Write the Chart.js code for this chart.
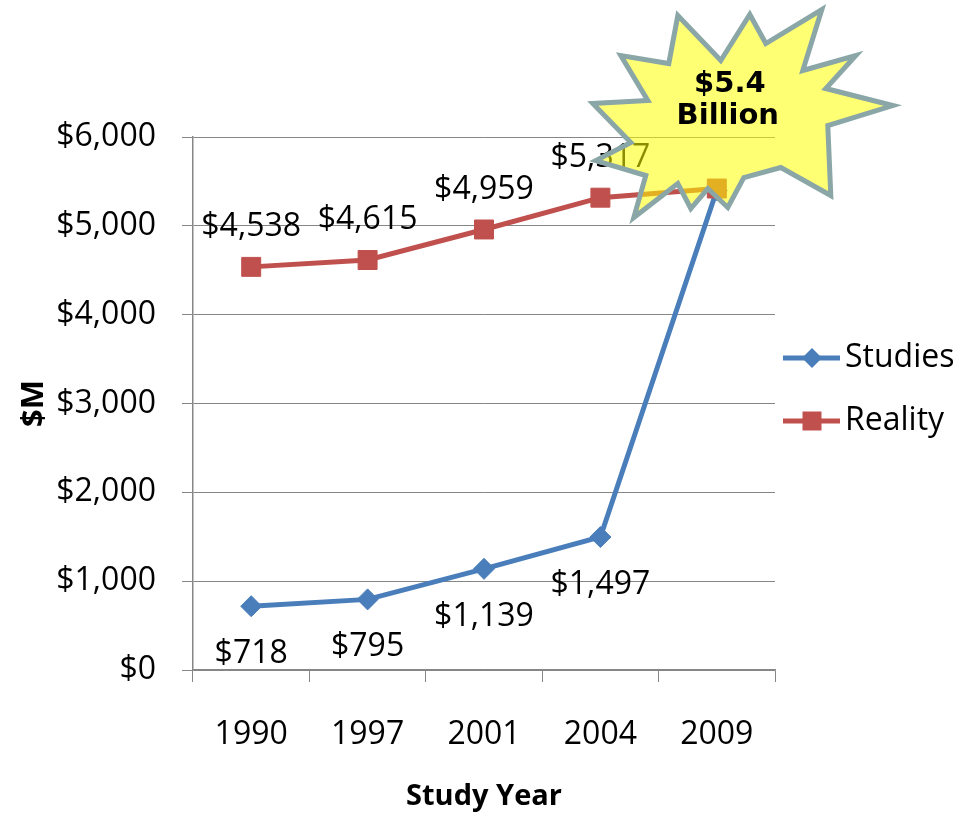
<!DOCTYPE html>
<html>
<head>
<meta charset="utf-8">
<script src="https://cdn.jsdelivr.net/npm/chart.js@4.4.1/dist/chart.umd.min.js"></script>
<style>
html, body { margin: 0; padding: 0; background: #fff; }
#wrap { width: 957px; height: 814px; position: relative; }
</style>
</head>
<body>
<div id="wrap"><canvas id="chart"></canvas></div>
<script>
// values
const years = ['1990', '1997', '2001', '2004', '2009'];
const studies = [718, 795, 1139, 1497, 5400];
const reality = [4538, 4615, 4959, 5317, 5420];
const studiesLabels = ['$718', '$795', '$1,139', '$1,497', null];
const realityLabels = ['$4,538', '$4,615', '$4,959', '$5,317', null];
const seriesNames = ['Studies', 'Reality'];
const calloutText = ['$5.4', 'Billion'];

const BLUE = '#4A7EBB';
const RED = '#C0504D';
const GRID = '#868686';
const FONT = "'Open Sans', sans-serif";

Chart.defaults.font.family = FONT;
Chart.defaults.color = '#000';

// data labels: reality above its points, studies below
const labelPlugin = {
  id: 'labels',
  afterDatasetsDraw(chart) {
    const ctx = chart.ctx;
    ctx.save();
    ctx.font = '32px ' + FONT;
    ctx.fillStyle = '#000';
    ctx.textAlign = 'center';
    ctx.textBaseline = 'middle';
    chart.data.datasets.forEach((ds, i) => {
      const meta = chart.getDatasetMeta(i);
      meta.data.forEach((pt, j) => {
        const txt = ds.valueLabels[j];
        if (!txt) return;
        const dy = ds.labelAbove ? -40 : 48;
        ctx.fillText(txt, pt.x, pt.y + dy);
      });
    });
    ctx.restore();
  }
};

// the yellow "$5.4 Billion" burst, pinned to the 2009 reality point
const burstPlugin = {
  id: 'burst',
  afterDatasetsDraw(chart) {
    const meta = chart.getDatasetMeta(1);
    const pt = meta.data[meta.data.length - 1];
    const cx = pt.x + 26, cy = pt.y - 76;
    const shape = [
      [-65, -97], [-22, -52], [7, -98], [23, -69], [79, -103], [60, -42],
      [113, -57], [83, -24], [150, -7], [85, 13], [88, 83], [38, 55],
      [1, 65], [-15, 95], [-35, 76], [-52, 96], [-65, 71], [-109, 105],
      [-97, 63], [-147, 48], [-112, 30], [-150, -9], [-95, -12], [-122, -57],
      [-74, -49]
    ];
    const ctx = chart.ctx;
    ctx.save();
    ctx.beginPath();
    shape.forEach(([dx, dy], k) => {
      if (k === 0) ctx.moveTo(cx + dx, cy + dy);
      else ctx.lineTo(cx + dx, cy + dy);
    });
    ctx.closePath();
    ctx.fillStyle = 'rgba(255,255,0,0.55)';
    ctx.fill();
    ctx.lineWidth = 5;
    ctx.lineJoin = 'miter';
    ctx.strokeStyle = '#8AA6A6';
    ctx.stroke();
    ctx.fillStyle = '#000';
    ctx.font = "bold 29px 'DejaVu Sans', sans-serif";
    ctx.textAlign = 'center';
    ctx.textBaseline = 'middle';
    ctx.fillText(calloutText[0], cx - 13, cy - 28);
    ctx.fillText(calloutText[1], cx - 15, cy + 4);
    ctx.restore();
  }
};

// legend on the right: line with marker, then name
const legendPlugin = {
  id: 'sideLegend',
  afterDraw(chart) {
    const ctx = chart.ctx;
    const x0 = chart.chartArea.right + 8;
    const rows = [
      { y: 358, color: BLUE, marker: 'diamond' },
      { y: 421, color: RED, marker: 'square' }
    ];
    ctx.save();
    rows.forEach((r, i) => {
      ctx.strokeStyle = r.color;
      ctx.fillStyle = r.color;
      ctx.lineWidth = 5;
      ctx.beginPath();
      ctx.moveTo(x0, r.y);
      ctx.lineTo(x0 + 57, r.y);
      ctx.stroke();
      const mx = x0 + 29;
      ctx.beginPath();
      if (r.marker === 'diamond') {
        ctx.moveTo(mx, r.y - 10);
        ctx.lineTo(mx + 10, r.y);
        ctx.lineTo(mx, r.y + 10);
        ctx.lineTo(mx - 10, r.y);
        ctx.closePath();
      } else {
        ctx.rect(mx - 9.5, r.y - 9.5, 19, 19);
      }
      ctx.fill();
      ctx.fillStyle = '#000';
      ctx.font = '32px ' + FONT;
      ctx.textAlign = 'left';
      ctx.textBaseline = 'middle';
      ctx.fillText(seriesNames[i], x0 + 62, r.y);
    });
    ctx.restore();
  }
};

const chart = new Chart(document.getElementById('chart'), {
  type: 'line',
  data: {
    labels: years,
    datasets: [
      {
        label: seriesNames[0],
        data: studies,
        valueLabels: studiesLabels,
        labelAbove: false,
        borderColor: BLUE,
        backgroundColor: BLUE,
        borderWidth: 5,
        pointStyle: 'rectRot',
        pointRadius: 10.5,
        pointBorderWidth: 1,
        tension: 0,
        order: 1
      },
      {
        label: seriesNames[1],
        data: reality,
        valueLabels: realityLabels,
        labelAbove: true,
        borderColor: RED,
        backgroundColor: RED,
        borderWidth: 5,
        pointStyle: 'rect',
        pointRadius: 13.4,
        pointBorderWidth: 1,
        tension: 0,
        order: 0
      }
    ]
  },
  options: {
    responsive: true,
    maintainAspectRatio: false,
    animation: false,
    layout: { padding: { left: 0, top: 137, right: 182, bottom: 0 } },
    plugins: {
      legend: { display: false },
      tooltip: { enabled: false }
    },
    scales: {
      x: {
        offset: true,
        grid: { offset: true, drawOnChartArea: false, drawTicks: true, tickLength: 12, color: GRID },
        border: { display: true, color: GRID, width: 1.5 },
        ticks: { font: { size: 32 }, padding: 34, color: '#000' },
        title: { display: true, text: 'Study Year', font: { size: 29, weight: 'bold' }, color: '#000', padding: { top: 0, bottom: 0 } },
        afterFit(scale) { scale.height = 144; }
      },
      y: {
        min: 0,
        max: 6000,
        ticks: {
          stepSize: 1000,
          font: { size: 32 },
          padding: 26,
          color: '#000',
          callback: v => '$' + v.toLocaleString('en-US')
        },
        grid: { color: GRID, tickLength: 11, lineWidth: 1 },
        border: { display: true, color: GRID, width: 1.5 },
        title: { display: true, text: '$M', font: { size: 31, weight: 'bold' }, color: '#000', padding: { top: 16, bottom: 0 } },
        afterFit(scale) { scale.width = 193; }
      }
    }
  },
  plugins: [labelPlugin, burstPlugin, legendPlugin]
});
</script>
</body>
</html>
